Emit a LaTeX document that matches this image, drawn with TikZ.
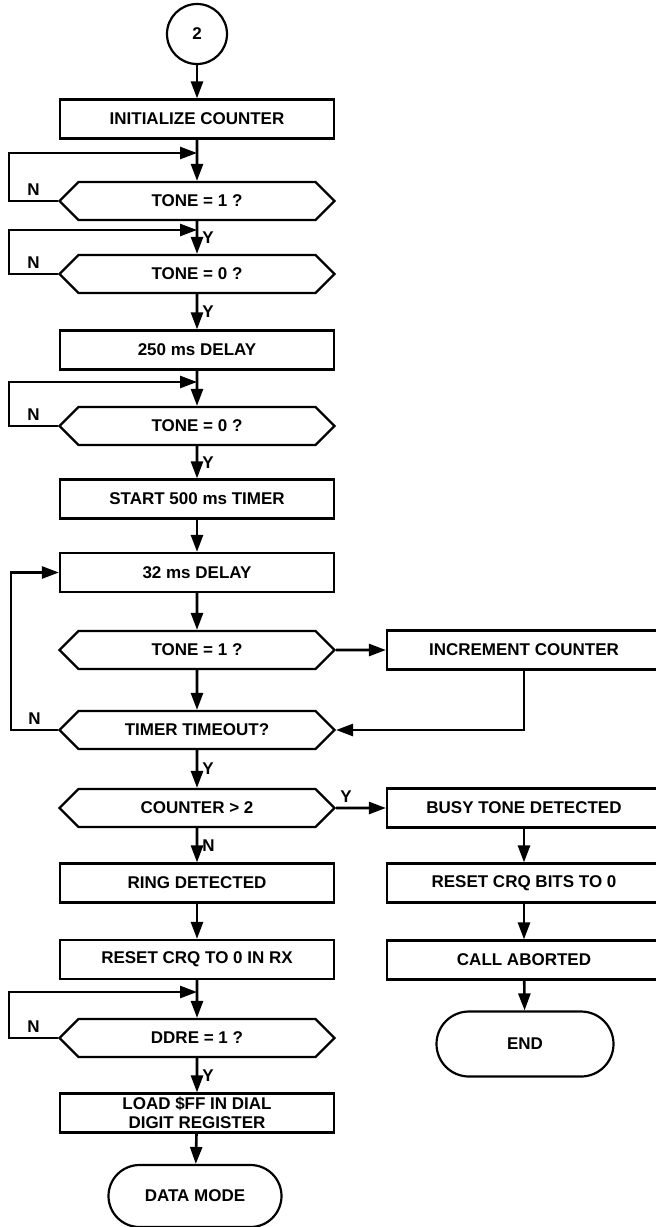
\documentclass[tikz,border=0pt]{standalone}
\usepackage{fontspec}
\setmainfont{Liberation Sans}
\usetikzlibrary{shapes.symbols,shapes.misc,arrows.meta}

\begin{document}
\begin{tikzpicture}[x=1pt, y=-1pt, font=\fontsize{17}{18.5}\selectfont\bfseries]
    \tikzstyle{procbox} = [rectangle, minimum width=274pt, minimum height=39pt,
      inner sep=0pt, align=center, draw=black, line width=2.2pt]
    \tikzstyle{decision} = [signal, signal to=west and east, signal pointer angle=90,
      minimum width=275pt, minimum height=38pt, inner sep=0pt, draw=black, line width=2.2pt]
    \tikzstyle{terminal} = [rounded rectangle, minimum height=62pt, inner sep=0pt,
      draw=black, line width=2.2pt]
    \tikzstyle{connector} = [circle, minimum size=60pt, inner sep=0pt, draw=black, line width=2.2pt]
    \tikzstyle{arrow} = [->, >={Triangle[length=17pt,width=12pt]}, line width=2.6pt]
    \tikzstyle{lbl} = [inner sep=4pt]

    \useasboundingbox (0,0) rectangle (656,1227);

    % main column
    \node (conn2) [connector] at (197,34) {2};
    \node (init) [procbox] at (197,119) {INITIALIZE COUNTER};
    \node (tone1a) [decision] at (197,201) {TONE = 1 ?};
    \node (tone0a) [decision] at (197,274) {TONE = 0 ?};
    \node (delay250) [procbox] at (197,350) {250 ms DELAY};
    \node (tone0b) [decision] at (197,426) {TONE = 0 ?};
    \node (timer500) [procbox] at (197,499) {START 500 ms TIMER};
    \node (delay32) [procbox] at (197,572.5) {32 ms DELAY};
    \node (tone1b) [decision] at (197,650) {TONE = 1 ?};
    \node (timeout) [decision] at (197,730) {TIMER TIMEOUT?};
    \node (count) [decision] at (197,808) {COUNTER > 2};
    \node (ring) [procbox] at (197,883) {RING DETECTED};
    \node (resetrx) [procbox] at (197,959.5) {RESET CRQ TO 0 IN RX};
    \node (ddre) [decision] at (197,1038) {DDRE = 1 ?};
    \node (loadff) [procbox] at (197,1113) {LOAD \$FF IN DIAL\\DIGIT REGISTER};
    \node (datamode) [terminal, minimum width=173pt] at (195,1196) {DATA MODE};

    % right column
    \node (incr) [procbox] at (524,650) {INCREMENT COUNTER};
    \node (busy) [procbox] at (524,808) {BUSY TONE DETECTED};
    \node (resetbits) [procbox] at (524,883) {RESET CRQ BITS TO 0};
    \node (aborted) [procbox] at (524,960) {CALL ABORTED};
    \node (end) [terminal, minimum width=177pt, minimum height=65pt] at (525,1044) {END};

    % where the wait loops rejoin
    \coordinate (loop1) at (197,153);
    \coordinate (loop2) at (197,230);
    \coordinate (loop3) at (197,382);
    \coordinate (loop4) at (197,992);

    \draw [arrow] (conn2) -- (init);
    \draw [arrow] (init) -- (tone1a);
    \draw [arrow] (tone1a.west) -- node (n1) [lbl, above] {N} ++(-49,0) |- (loop1);
    \draw [arrow] (tone1a) -- node (y1) [lbl, right] {Y} (tone0a);
    \draw [arrow] (tone0a.west) -- node (n2) [lbl, above] {N} ++(-49,0) |- (loop2);
    \draw [arrow] (tone0a) -- node (y2) [lbl, right] {Y} (delay250);
    \draw [arrow] (delay250) -- (tone0b);
    \draw [arrow] (tone0b.west) -- node (n3) [lbl, above] {N} ++(-49,0) |- (loop3);
    \draw [arrow] (tone0b) -- node (y3) [lbl, right] {Y} (timer500);
    \draw [arrow] (timer500) -- (delay32);
    \draw [arrow] (delay32) -- (tone1b);
    \draw [arrow] (tone1b) -- (incr);
    \draw [arrow] (tone1b) -- (timeout);
    \draw [arrow] (incr.south) |- (timeout.east);
    \draw [arrow] (timeout.west) -- node (n4) [lbl, above] {N} ++(-47,0) |- (delay32.west);
    \draw [arrow] (timeout) -- node (y4) [lbl, right] {Y} (count);
    \draw [arrow] (count) -- node (y5) [lbl, above, pos=0.2] {Y} (busy);
    \draw [arrow] (count) -- node (n5) [lbl, right] {N} (ring);
    \draw [arrow] (ring) -- (resetrx);
    \draw [arrow] (resetrx) -- (ddre);
    \draw [arrow] (ddre.west) -- node (n6) [lbl, above] {N} ++(-49,0) |- (loop4);
    \draw [arrow] (ddre) -- node (y6) [lbl, right] {Y} (loadff);
    \draw [arrow] (loadff) -- (datamode);
    \draw [arrow] (busy) -- (resetbits);
    \draw [arrow] (resetbits) -- (aborted);
    \draw [arrow] (aborted) -- (end);
  \end{tikzpicture}
\end{document}
